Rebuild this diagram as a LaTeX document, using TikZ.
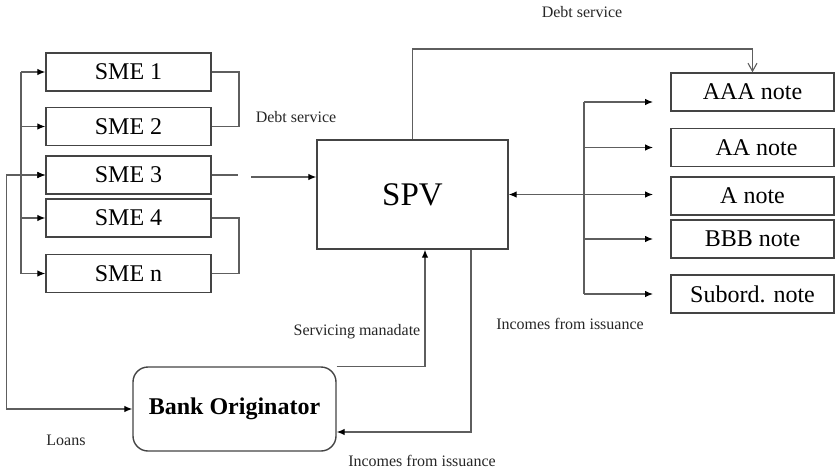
\documentclass[tikz,border=0pt]{standalone}
\usepackage{fontspec}
\setmainfont{Liberation Serif}
\usetikzlibrary{arrows.meta,calc}
\definecolor{linegray}{HTML}{5E5E5E}
\definecolor{boxgray}{HTML}{444444}

\begin{document}
\begin{tikzpicture}[x=1pt,y=-1pt,>={Latex[length=8pt,width=6.5pt,color=black]},
  box/.style={draw=boxgray,line width=1.4pt,minimum width=165pt,minimum height=38pt,inner sep=0pt,font=\fontsize{24}{28}\selectfont},
  flow/.style={draw=linegray,line width=1.1pt},
  lbl/.style={font=\fontsize{16}{19}\selectfont,text=black!85}]
  \useasboundingbox (0,0) rectangle (838,472);

  % borrowers
  \node[box] (sme1) at (128.5,72) {SME 1};
  \node[box] (sme2) at (128.5,126.5) {SME 2};
  \node[box] (sme3) at (128.5,175) {SME 3};
  \node[box] (sme4) at (128.5,218) {SME 4};
  \node[box] (smen) at (128.5,273.5) {SME n};

  % vehicle and originator
  \node[box,minimum width=191pt,minimum height=109pt,font=\fontsize{33}{38}\selectfont] (spv) at (412.5,194.5) {SPV};
  \node[box,rounded corners=15pt,minimum width=203pt,minimum height=84pt,font=\fontsize{24}{28}\selectfont\bfseries] (bank) at (234.5,409) {Bank Originator};

  % tranches
  \node[box,minimum width=163pt] (aaa) at (752.5,92) {AAA note};
  \node[box,minimum width=163pt] (aa) at (752.5,147.5) {\hspace{8pt}AA note};
  \node[box,minimum width=163pt] (anote) at (752.5,196) {A note};
  \node[box,minimum width=163pt] (bbb) at (752.5,239) {BBB note};
  \node[box,minimum width=163pt] (sub) at (752.5,294) {Subord. note};

  \coordinate (lbus) at (21,0);
  \coordinate (rbus) at (239,0);
  \coordinate (dsin) at (251,177);
  \coordinate (topline) at (600,49);
  \coordinate (nbus) at (584,0);
  \coordinate (ntip) at (653,0);

  % loans to the SMEs
  \draw[flow] (lbus |- sme1.west) -- (lbus |- smen.west);
  \foreach \s in {sme1,sme2,sme3,sme4,smen}
    \draw[flow,->] (lbus |- \s.west) -- (\s.west);
  \draw[flow,<->] (sme3.west) -- ++(-39,0) |- (bank.west);

  % debt service to the SPV
  \draw[flow] (sme1.east) -- (rbus |- sme1.east) -- (rbus |- sme2.east) -- (sme2.east);
  \draw[flow] (sme3.east) -- ++(26,0);
  \draw[flow] (sme4.east) -- (rbus |- sme4.east) -- (rbus |- smen.east) -- (smen.east);
  \draw[flow,->] (dsin) -- (spv.west |- dsin);

  % SPV and notes
  \draw[flow,-{Straight Barb[length=8pt,width=9pt]}] (spv.north) |- (topline) -| (aaa.north);
  \draw[flow] ([yshift=-10pt]nbus |- aaa.west) -- (nbus |- sub.west);
  \draw[flow,->] ([yshift=-10pt]nbus |- aaa.west) -- ([yshift=-10pt]ntip |- aaa.west);
  \draw[flow,->] (nbus |- aa.west) -- (ntip |- aa.west);
  \draw[flow,<->] (spv.east) -- (ntip |- spv.east);
  \draw[flow,->] (nbus |- bbb.west) -- (ntip |- bbb.west);
  \draw[flow,->] (nbus |- sub.west) -- (ntip |- sub.west);

  % SPV and originator
  \draw[flow,->] (bank.north east) -| ([xshift=12.5pt]spv.south);
  \draw[flow,->] ([xshift=58.5pt]spv.south) |- ([yshift=-23pt]bank.east);

  % labels
  \node[lbl] (lds1) at (582,12) {Debt service};
  \node[lbl] (lds2) at (296,117) {Debt service};
  \node[lbl] (lsm) at (357,332) {Servicing manadate};
  \node[lbl] (linc1) at (570,324) {Incomes from issuance};
  \node[lbl] (linc2) at (422,461) {Incomes from issuance};
  \node[lbl] (lloans) at (66,440) {Loans};
\end{tikzpicture}
\end{document}
